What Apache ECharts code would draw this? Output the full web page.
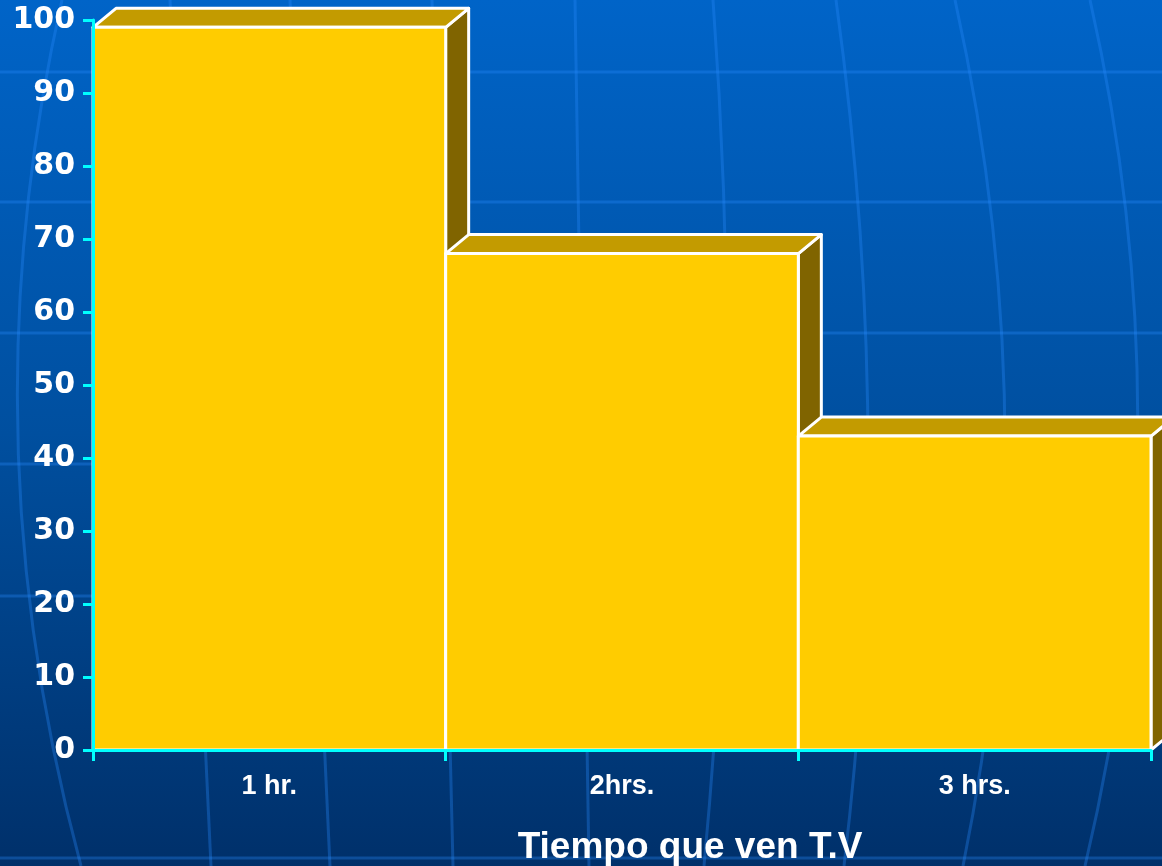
<!DOCTYPE html>
<html>
<head>
<meta charset="utf-8">
<script src="https://cdn.jsdelivr.net/npm/echarts@6/dist/echarts.min.js"></script>
<style>
html,body{margin:0;padding:0;background:#003a75;}
#chart{width:1162px;height:866px;}
</style>
</head>
<body>
<div id="chart"></div>
<script>
// ---- data ----
const categories = ['1 hr.', '2hrs.', '3 hrs.'];
const values = [99, 68, 43];
const axisTitle = 'Tiempo que ven T.V';
const yMin = 0, yMax = 100, yStep = 10;

// ---- decoration (background globe lines) ----
const W = 1162, H = 866;
const hLines = [72, 202, 333, 464, 596, 858];
const vCurves = [
  [62, -36, 81], [170, 190, 211], [290, 310, 330], [432, 442, 453],
  [575, 582, 589], [713, 745, 704], [836, 896, 844], [955, 1051, 963], [1090, 1188, 1085]
];
const lineColor = 'rgba(40,140,255,0.32)';
const graphics = [{
  type: 'rect', z: -10, silent: true,
  shape: {x: 0, y: 0, width: W, height: H},
  style: {fill: new echarts.graphic.LinearGradient(0, 0, 0, 1, [
    {offset: 0, color: '#0064C8'},
    {offset: 0.5, color: '#004F9F'},
    {offset: 1, color: '#00306A'}
  ])}
}];
hLines.forEach(y => graphics.push({
  type: 'line', z: -5, silent: true,
  shape: {x1: 0, y1: y, x2: W, y2: y},
  style: {stroke: lineColor, lineWidth: 3}
}));
vCurves.forEach(c => graphics.push({
  type: 'bezierCurve', z: -5, silent: true,
  shape: {x1: c[0], y1: 0, cpx1: c[1], cpy1: H / 2, x2: c[2], y2: H},
  style: {stroke: lineColor, lineWidth: 3, fill: null}
}));

function renderBar(params, api) {
  const idx = api.value(0), val = api.value(1);
  const base = api.coord([idx, 0]);
  const top = api.coord([idx, val]);
  const w = api.size([1, 0])[0];
  const x0 = base[0] - w / 2, x1 = base[0] + w / 2, y0 = base[1], y1 = top[1];
  const dx = 23, dy = -19;
  const stroke = {stroke: '#FFFFFF', lineWidth: 3, lineJoin: 'round'};
  return {
    type: 'group',
    children: [
      {type: 'polygon', shape: {points: [[x1, y1], [x1 + dx, y1 + dy], [x1 + dx, y0 + dy], [x1, y0]]},
        style: Object.assign({fill: '#806400'}, stroke)},
      {type: 'polygon', shape: {points: [[x0, y1], [x0 + dx, y1 + dy], [x1 + dx, y1 + dy], [x1, y1]]},
        style: Object.assign({fill: '#C39B00'}, stroke)},
      {type: 'rect', shape: {x: x0, y: y1, width: w, height: y0 - y1},
        style: Object.assign({fill: '#FFCC00'}, stroke)}
    ]
  };
}

const chart = echarts.init(document.getElementById('chart'), null, {renderer: 'canvas'});
chart.setOption({
  animation: false,
  graphic: graphics,
  grid: {left: 93, right: 11, top: 20, bottom: 116, containLabel: false, outerBoundsMode: 'none'},
  xAxis: {
    type: 'category', data: categories, boundaryGap: true, z: 10,
    axisLine: {lineStyle: {color: '#00FFFF', width: 3}},
    axisTick: {show: true, length: 11, lineStyle: {color: '#00FFFF', width: 3}},
    axisLabel: {color: '#FFFFFF', fontFamily: 'Liberation Sans, Arial, sans-serif', fontWeight: 'bold', fontSize: 27, margin: 23},
    name: axisTitle, nameLocation: 'middle', nameGap: 79,
    nameTextStyle: {color: '#FFFFFF', fontFamily: 'Liberation Sans, Arial, sans-serif', fontWeight: 'bold', fontSize: 37, padding: [0, 0, 0, 136]}
  },
  yAxis: {
    type: 'value', min: yMin, max: yMax, interval: yStep, z: 10,
    axisLine: {show: true, lineStyle: {color: '#00FFFF', width: 3}},
    axisTick: {show: true, length: 10, lineStyle: {color: '#00FFFF', width: 3}},
    splitLine: {show: false},
    axisLabel: {color: '#FFFFFF', fontFamily: 'DejaVu Sans, sans-serif', fontWeight: 'bold', fontSize: 30, margin: 18, padding: [5, 0, 0, 0]}
  },
  series: [{
    type: 'custom', clip: false, z: 2,
    renderItem: renderBar,
    encode: {x: 0, y: 1},
    data: values.map((v, i) => [i, v])
  }]
});
</script>
</body>
</html>
